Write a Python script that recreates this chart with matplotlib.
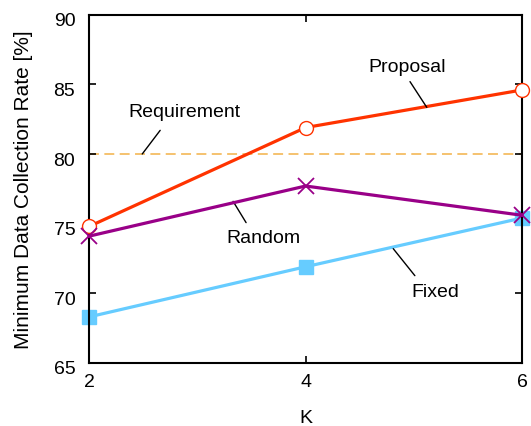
import matplotlib.pyplot as plt
import matplotlib.transforms as mtransforms

plt.rcParams['font.family'] = ['Liberation Sans', 'DejaVu Sans']

# data
k_values = [2, 4, 6]
proposal = [74.8, 81.9, 84.6]
random_sel = [74.1, 77.7, 75.6]
fixed = [68.3, 71.9, 75.4]
requirement = 80

fig = plt.figure(figsize=(5.31, 4.27), dpi=100)
ax = fig.add_axes([0.168, 0.148, 0.815, 0.815])

ax.axhline(requirement, color='#F5BD63', linestyle=(0, (5.5, 3)), linewidth=1.3, zorder=1)
ax.plot(k_values, proposal, color='#FF3300', linewidth=2.3, marker='o', markersize=10,
        markerfacecolor='white', markeredgecolor='#FF3300', markeredgewidth=1.0,
        clip_on=False, zorder=3)
ax.plot(k_values, random_sel, color='#990088', linewidth=2.3, marker='x', markersize=11,
        markeredgewidth=1.3, clip_on=False, zorder=4)
ax.plot(k_values, fixed, color='#66CCFF', linewidth=2.3, marker='s', markersize=10.5,
        clip_on=False, zorder=2)

# series labels (baseline position) with short pointer lines
labels = [
    ('Requirement', (2.88, 82.75), (2.656, 81.7), (2.49, 80.0)),
    ('Proposal', (4.94, 85.95), (4.965, 85.2), (5.12, 83.35)),
    ('Random', (3.61, 73.7), (3.45, 75.07), (3.33, 76.6)),
    ('Fixed', (5.2, 69.8), (5.01, 71.26), (4.81, 73.2)),
]
for text, pos, p0, p1 in labels:
    ax.text(pos[0], pos[1], text, fontsize=14, ha='center', va='baseline')
    ax.annotate('', xy=p1, xytext=p0,
                arrowprops=dict(arrowstyle='-', color='black', lw=1.0, shrinkA=0, shrinkB=0))

ax.set_xlim(2, 6)
ax.set_ylim(65, 90)
ax.set_xticks(k_values)
ax.set_yticks([65, 70, 75, 80, 85, 90])
ax.tick_params(direction='in', length=5, width=1.2, labelsize=14, top=True, right=True)
ax.tick_params(axis='y', pad=10)
ax.tick_params(axis='x', pad=7)
for s in ax.spines.values():
    s.set_linewidth(1.5)

# y tick labels sit slightly below their ticks in the reference
offset = mtransforms.ScaledTranslation(0, -4 / 100, fig.dpi_scale_trans)
for lbl in ax.get_yticklabels():
    lbl.set_transform(lbl.get_transform() + offset)

ax.set_xlabel('K', fontsize=14, labelpad=14)
ax.set_ylabel('Minimum Data Collection Rate [%]', fontsize=15, labelpad=15)

fig.savefig('out.png', dpi=100)
